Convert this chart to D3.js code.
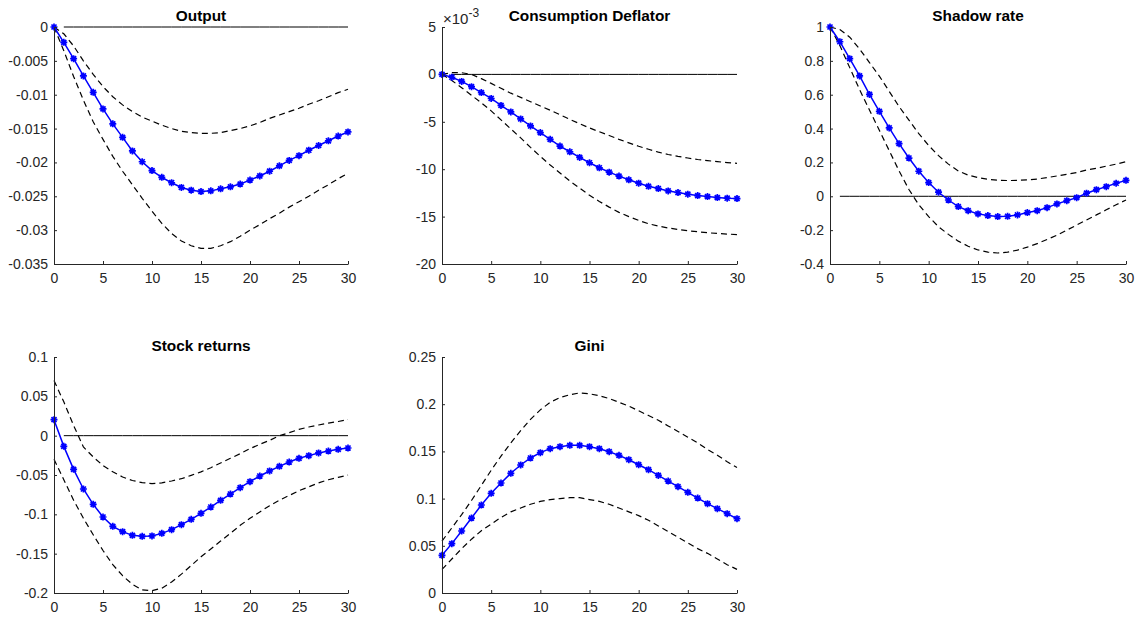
<!DOCTYPE html>
<html>
<head>
<meta charset="utf-8">
<script src="https://cdn.jsdelivr.net/npm/d3@7"></script>
<style>
  body { margin: 0; background: #fff; }
  text { font-family: "Liberation Sans", Arial, Helvetica, sans-serif; }
</style>
</head>
<body>
<div id="container"></div>
<script>
// horizons 0..30
let horizon = d3.range(0, 31)

let titles = ["Output", "Consumption Deflator", "Shadow rate", "Stock returns", "Gini"]

// Output
let outputMean = [0, -0.00226, -0.00468, -0.00723, -0.00965, -0.0121, -0.0143, -0.0163, -0.0183, -0.0199,
    -0.0212, -0.0222, -0.0230, -0.0237, -0.0241, -0.0243, -0.0242, -0.0239, -0.0236, -0.0232,
    -0.0226, -0.0220, -0.0213, -0.0205, -0.0197, -0.0190, -0.0182, -0.0175, -0.0168, -0.0161, -0.0155]
let outputUpper = [0, -0.0010, -0.0028, -0.0050, -0.0070, -0.0088, -0.0103, -0.0115, -0.0125, -0.0133,
    -0.0139, -0.0145, -0.0150, -0.0154, -0.0156, -0.0157, -0.0157, -0.0156, -0.0153, -0.0150,
    -0.0146, -0.0141, -0.0135, -0.0130, -0.0125, -0.0120, -0.0114, -0.0109, -0.0103, -0.0097, -0.0092]
let outputLower = [0, -0.0035, -0.0073, -0.0108, -0.0140, -0.0166, -0.0191, -0.0213, -0.0233, -0.0253,
    -0.0272, -0.0290, -0.0305, -0.0316, -0.0323, -0.0327, -0.0327, -0.0323, -0.0317, -0.0309,
    -0.0300, -0.0292, -0.0283, -0.0275, -0.0266, -0.0258, -0.0250, -0.0241, -0.0233, -0.0224, -0.0216]

// Consumption deflator (units of 1e-3)
let deflatorMean = [0, -0.3, -0.74, -1.29, -1.92, -2.54, -3.27, -3.96, -4.7, -5.44,
    -6.14, -6.85, -7.56, -8.16, -8.76, -9.32, -9.85, -10.31, -10.73, -11.12,
    -11.48, -11.8, -12.04, -12.29, -12.46, -12.64, -12.78, -12.89, -12.99, -13.06, -13.1]
let deflatorUpper = [0, 0.18, 0.18, 0.0, -0.45, -0.95, -1.47, -1.98, -2.42, -2.88,
    -3.33, -3.78, -4.25, -4.75, -5.2, -5.65, -6.05, -6.45, -6.85, -7.22,
    -7.58, -7.9, -8.2, -8.45, -8.65, -8.82, -8.98, -9.1, -9.2, -9.3, -9.38]
let deflatorLower = [0, -0.65, -1.4, -2.2, -3.0, -3.85, -4.8, -5.75, -6.7, -7.7,
    -8.65, -9.55, -10.4, -11.25, -12.0, -12.75, -13.4, -14.0, -14.55, -15.0,
    -15.4, -15.75, -16.0, -16.2, -16.35, -16.5, -16.6, -16.7, -16.78, -16.84, -16.9]

// Shadow rate
let shadowMean = [1.0, 0.913, 0.813, 0.711, 0.602, 0.502, 0.404, 0.311, 0.226, 0.148,
    0.081, 0.024, -0.022, -0.061, -0.085, -0.104, -0.114, -0.12, -0.118, -0.11,
    -0.096, -0.085, -0.067, -0.045, -0.026, -0.008, 0.018, 0.039, 0.057, 0.077, 0.094]
let shadowUpper = [1.0, 0.985, 0.94, 0.87, 0.79, 0.71, 0.62, 0.53, 0.45, 0.37,
    0.30, 0.24, 0.19, 0.15, 0.125, 0.11, 0.10, 0.095, 0.093, 0.094,
    0.097, 0.102, 0.11, 0.12, 0.13, 0.14, 0.155, 0.165, 0.178, 0.19, 0.205]
let shadowLower = [1.0, 0.89, 0.76, 0.63, 0.51, 0.39, 0.27, 0.15, 0.04, -0.05,
    -0.12, -0.18, -0.225, -0.265, -0.295, -0.317, -0.33, -0.335, -0.33, -0.318,
    -0.30, -0.28, -0.255, -0.23, -0.2, -0.17, -0.14, -0.11, -0.08, -0.05, -0.022]

// Stock returns
let stockMean = [0.0203, -0.0136, -0.0428, -0.0678, -0.0873, -0.1034, -0.1153, -0.122, -0.1267, -0.128,
    -0.1275, -0.1242, -0.1195, -0.1131, -0.1064, -0.0987, -0.0907, -0.0822, -0.0742, -0.0661,
    -0.0585, -0.0513, -0.0449, -0.039, -0.0335, -0.0288, -0.0254, -0.022, -0.0195, -0.0174, -0.0157]
let stockUpper = [0.07, 0.043, 0.013, -0.0144, -0.027, -0.038, -0.046, -0.0525, -0.057, -0.0597,
    -0.061, -0.060, -0.0576, -0.0547, -0.0504, -0.046, -0.0407, -0.0347, -0.0288, -0.0229,
    -0.0165, -0.011, -0.006, 0.0, 0.0038, 0.008, 0.011, 0.0136, 0.016, 0.018, 0.0203]
let stockLower = [-0.030, -0.056, -0.082, -0.105, -0.126, -0.146, -0.164, -0.178, -0.189, -0.196,
    -0.197, -0.194, -0.186, -0.176, -0.165, -0.154, -0.144, -0.134, -0.124, -0.114,
    -0.105, -0.097, -0.089, -0.082, -0.076, -0.070, -0.065, -0.060, -0.056, -0.053, -0.050]

// Gini
let giniMean = [0.0399, 0.0523, 0.0657, 0.0794, 0.0932, 0.1056, 0.1165, 0.1268, 0.1356, 0.143,
    0.1487, 0.1529, 0.155, 0.1564, 0.1564, 0.155, 0.1529, 0.1497, 0.1458, 0.1412,
    0.1359, 0.1306, 0.1246, 0.1186, 0.1126, 0.1066, 0.1006, 0.0946, 0.0893, 0.084, 0.0787]
let giniUpper = [0.055, 0.069, 0.083, 0.098, 0.114, 0.130, 0.145, 0.159, 0.172, 0.184,
    0.194, 0.202, 0.207, 0.210, 0.212, 0.211, 0.209, 0.206, 0.202, 0.198,
    0.193, 0.188, 0.183, 0.177, 0.171, 0.165, 0.159, 0.152, 0.146, 0.139, 0.133]
let giniLower = [0.025, 0.036, 0.047, 0.057, 0.066, 0.073, 0.080, 0.086, 0.090, 0.094,
    0.097, 0.099, 0.100, 0.101, 0.101, 0.099, 0.097, 0.094, 0.090, 0.086,
    0.082, 0.077, 0.071, 0.065, 0.059, 0.053, 0.047, 0.042, 0.036, 0.030, 0.025]

// axis ticks
let xTicks = [0, 5, 10, 15, 20, 25, 30]
let outputTicks = [0, -0.005, -0.01, -0.015, -0.02, -0.025, -0.03, -0.035]
let deflatorTicks = [5, 0, -5, -10, -15, -20]
let shadowTicks = [1, 0.8, 0.6, 0.4, 0.2, 0, -0.2, -0.4]
let stockTicks = [0.1, 0.05, 0, -0.05, -0.1, -0.15, -0.2]
let giniTicks = [0.25, 0.2, 0.15, 0.1, 0.05, 0]

let panels = [
    {title: titles[0], mean: outputMean, up: outputUpper, lo: outputLower, ticks: outputTicks, dom: [-0.035, 0], box: [54, 348, 27, 264]},
    {title: titles[1], mean: deflatorMean, up: deflatorUpper, lo: deflatorLower, ticks: deflatorTicks, dom: [-20, 5], box: [442, 737, 27, 264], expo: true},
    {title: titles[2], mean: shadowMean, up: shadowUpper, lo: shadowLower, ticks: shadowTicks, dom: [-0.4, 1], box: [830, 1126, 27, 264]},
    {title: titles[3], mean: stockMean, up: stockUpper, lo: stockLower, ticks: stockTicks, dom: [-0.2, 0.1], box: [54, 348, 357, 593]},
    {title: titles[4], mean: giniMean, up: giniUpper, lo: giniLower, ticks: giniTicks, dom: [0, 0.25], box: [442, 737, 357, 593]}
]

let width = 1138
let height = 617
let axisColor = "#262626"

let svg = d3.select("#container")
    .append("svg")
    .attr("width", width)
    .attr("height", height)

let r = 3.5, a = r * 0.72
let star = `M${-r},0L${r},0M0,${-r}L0,${r}M${-a},${-a}L${a},${a}M${-a},${a}L${a},${-a}`

panels.forEach(p => {
    let [x0, x1, y0, y1] = p.box
    let x = d3.scaleLinear().domain([0, 30]).range([x0, x1])
    let y = d3.scaleLinear().domain(p.dom).range([y1, y0])
    let g = svg.append("g")

    let line = d3.line().x((d, i) => x(horizon[i])).y(d => y(d))

    // zero line from horizon 1 (skip where it sits on the x axis)
    if (p.dom[0] < 0) {
        g.append("path")
            .datum(horizon.slice(1).map(() => 0))
            .attr("fill", "none")
            .attr("stroke", "#000")
            .attr("stroke-width", 1)
            .attr("d", d3.line().x((d, i) => x(horizon[i + 1])).y(d => y(d)))
    }

    g.selectAll(".band")
        .data([p.up, p.lo])
        .join("path")
        .attr("fill", "none")
        .attr("stroke", "#000")
        .attr("stroke-width", 1.2)
        .attr("stroke-dasharray", "6,4")
        .attr("d", line)

    g.append("path")
        .datum(p.mean)
        .attr("fill", "none")
        .attr("stroke", "#0000ff")
        .attr("stroke-width", 1.5)
        .attr("d", line)

    g.append("g")
        .selectAll("path")
        .data(p.mean)
        .join("path")
        .attr("transform", (d, i) => `translate(${x(horizon[i])},${y(d)})`)
        .attr("d", star)
        .attr("stroke", "#0000ff")
        .attr("stroke-width", 1.7)

    let ax = g.append("g")
        .attr("transform", `translate(0,${y1})`)
        .call(d3.axisBottom(x).tickValues(xTicks).tickSizeInner(-3).tickSizeOuter(0).tickPadding(9))
    let ay = g.append("g")
        .attr("transform", `translate(${x0},0)`)
        .call(d3.axisLeft(y).tickValues(p.ticks).tickFormat(d => String(d)).tickSizeInner(-3).tickSizeOuter(0).tickPadding(6))

    ;[ax, ay].forEach(s => {
        s.select(".domain").attr("stroke", axisColor)
        s.selectAll(".tick line").attr("stroke", axisColor)
        s.selectAll(".tick text")
            .attr("fill", axisColor)
            .attr("font-size", 14)
            .attr("font-family", "Liberation Sans, Arial, sans-serif")
    })

    g.append("text")
        .attr("x", (x0 + x1) / 2)
        .attr("y", y0 - 6)
        .attr("text-anchor", "middle")
        .attr("font-size", 15.4)
        .attr("font-weight", "bold")
        .attr("fill", "#000")
        .text(p.title)

    if (p.expo) {
        let t = g.append("text")
            .attr("x", x0 + 1)
            .attr("y", y0 - 3)
            .attr("fill", axisColor)
            .attr("font-size", 15)
        t.append("tspan").text("\u00d710")
        t.append("tspan").attr("dy", -7).attr("font-size", 12).text("-3")
    }
})
</script>
</body>
</html>
